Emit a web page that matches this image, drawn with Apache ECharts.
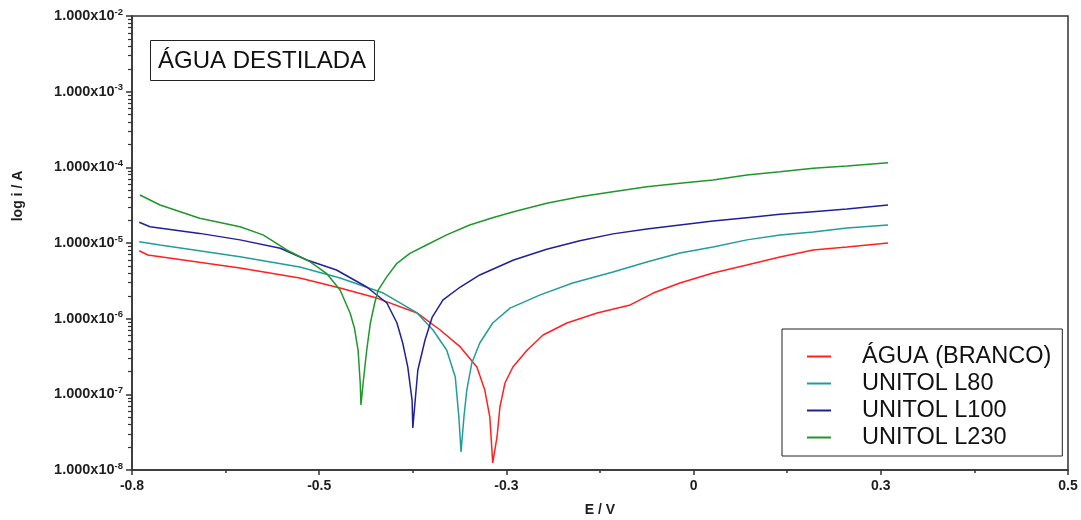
<!DOCTYPE html>
<html>
<head>
<meta charset="utf-8">
<script src="https://cdn.jsdelivr.net/npm/echarts@6/dist/echarts.min.js"></script>
<style>
  html, body { margin: 0; padding: 0; background: #fff; }
  #chart { width: 1081px; height: 520px; }
</style>
</head>
<body>
<div id="chart"></div>
<script>
// tick positions (evenly spaced) and the labels the original software printed
var xTickPos = [-0.8, -0.54, -0.28, -0.02, 0.24, 0.5];
var xTickLabels = ['-0.8', '-0.5', '-0.3', '0', '0.3', '0.5'];
var xMinorPos = [-0.67, -0.41, -0.15, 0.11, 0.37];
var yTickPos = [1e-8, 1e-7, 1e-6, 1e-5, 1e-4, 1e-3, 1e-2];

var seriesNames = ['ÁGUA (BRANCO)', 'UNITOL L80', 'UNITOL L100', 'UNITOL L230'];
var seriesColors = ['#ff2020', '#239c9c', '#20209a', '#1f982a'];

// [E / V, i / A]
var aguaPts = [
  [-0.790, 7.9e-6], [-0.778, 6.95e-6], [-0.650, 4.68e-6], [-0.567, 3.45e-6],
  [-0.511, 2.54e-6], [-0.460, 1.87e-6], [-0.404, 1.19e-6], [-0.372, 7.08e-7],
  [-0.344, 4.23e-7], [-0.321, 2.30e-7], [-0.310, 1.14e-7], [-0.303, 5.0e-8],
  [-0.299, 1.24e-8], [-0.293, 2.73e-8], [-0.289, 6.8e-8], [-0.282, 1.41e-7],
  [-0.271, 2.30e-7], [-0.251, 3.85e-7], [-0.229, 6.08e-7], [-0.196, 8.77e-7],
  [-0.154, 1.19e-6], [-0.108, 1.52e-6], [-0.076, 2.18e-6], [-0.039, 2.96e-6],
  [0.007, 4.02e-6], [0.054, 5.12e-6], [0.100, 6.53e-6], [0.146, 8.09e-6],
  [0.193, 8.86e-6], [0.250, 1.0e-5]
];
var l80Pts = [
  [-0.790, 1.04e-5], [-0.761, 9.4e-6], [-0.650, 6.59e-6], [-0.567, 4.82e-6],
  [-0.511, 3.45e-6], [-0.451, 2.18e-6], [-0.404, 1.19e-6], [-0.382, 7.08e-7],
  [-0.363, 3.85e-7], [-0.351, 1.69e-7], [-0.346, 5.0e-8], [-0.343, 1.73e-8],
  [-0.339, 5.0e-8], [-0.335, 1.14e-7], [-0.328, 2.6e-7], [-0.317, 4.77e-7],
  [-0.299, 8.77e-7], [-0.275, 1.38e-6], [-0.233, 2.06e-6], [-0.188, 2.96e-6],
  [-0.132, 4.14e-6], [-0.085, 5.61e-6], [-0.039, 7.38e-6], [0.007, 8.85e-6],
  [0.054, 1.10e-5], [0.100, 1.28e-5], [0.146, 1.40e-5], [0.193, 1.58e-5],
  [0.250, 1.73e-5]
];
var l100Pts = [
  [-0.790, 1.88e-5], [-0.775, 1.64e-5], [-0.706, 1.34e-5], [-0.650, 1.10e-5],
  [-0.594, 8.51e-6], [-0.557, 5.96e-6], [-0.516, 4.40e-6], [-0.474, 2.62e-6],
  [-0.446, 1.61e-6], [-0.432, 8.77e-7], [-0.424, 4.77e-7], [-0.417, 2.30e-7],
  [-0.411, 8.4e-8], [-0.410, 3.59e-8], [-0.407, 7.69e-8], [-0.403, 2.10e-7],
  [-0.393, 5.23e-7], [-0.383, 1.05e-6], [-0.368, 1.77e-6], [-0.344, 2.62e-6],
  [-0.317, 3.78e-6], [-0.270, 5.96e-6], [-0.224, 8.26e-6], [-0.178, 1.07e-5],
  [-0.132, 1.32e-5], [-0.085, 1.53e-5], [-0.039, 1.73e-5], [0.007, 1.95e-5],
  [0.054, 2.16e-5], [0.100, 2.39e-5], [0.146, 2.59e-5], [0.193, 2.81e-5],
  [0.250, 3.18e-5]
];
var l230Pts = [
  [-0.789, 4.31e-5], [-0.761, 3.18e-5], [-0.706, 2.12e-5], [-0.650, 1.64e-5],
  [-0.618, 1.28e-5], [-0.585, 8.09e-6], [-0.553, 5.66e-6], [-0.530, 3.98e-6],
  [-0.511, 2.39e-6], [-0.497, 1.18e-6], [-0.491, 7.46e-7], [-0.486, 3.85e-7],
  [-0.483, 1.40e-7], [-0.482, 7.23e-8], [-0.479, 1.40e-7], [-0.474, 3.85e-7],
  [-0.469, 8.69e-7], [-0.463, 1.60e-6], [-0.458, 2.39e-6], [-0.446, 3.59e-6],
  [-0.432, 5.39e-6], [-0.414, 7.31e-6], [-0.391, 9.42e-6], [-0.363, 1.28e-5],
  [-0.331, 1.73e-5], [-0.298, 2.17e-5], [-0.270, 2.59e-5], [-0.224, 3.35e-5],
  [-0.178, 4.09e-5], [-0.132, 4.77e-5], [-0.085, 5.55e-5], [-0.039, 6.15e-5],
  [0.007, 6.81e-5], [0.054, 7.92e-5], [0.100, 8.75e-5], [0.146, 9.70e-5],
  [0.193, 1.04e-4], [0.250, 1.15e-4]
];
var allPts = [aguaPts, l80Pts, l100Pts, l230Pts];

// log minor ticks 2..9 inside each decade
var yMinorPos = [];
for (var d = -8; d < -2; d++) {
  for (var k = 2; k <= 9; k++) yMinorPos.push(k * Math.pow(10, d));
}

var FONT = 'Liberation Sans, Arial, sans-serif';
var AXIS_COLOR = '#333';
var TEXT_COLOR = '#1e1e1e';

var chart = echarts.init(document.getElementById('chart'));

var option = {
  animation: false,
  backgroundColor: '#fff',
  title: {
    text: 'ÁGUA DESTILADA',
    left: 150,
    top: 40,
    padding: [8, 9, 7, 8],
    borderColor: '#222',
    borderWidth: 1,
    textStyle: { fontFamily: FONT, fontSize: 24, fontWeight: 'normal', color: '#111', lineHeight: 26 }
  },
  legend: {
    orient: 'vertical',
    left: 782,
    top: 329,
    padding: [14, 11, 5, 25],
    itemGap: 0,
    itemWidth: 24,
    itemHeight: 2,
    icon: 'rect',
    borderColor: '#222',
    borderWidth: 1,
    data: seriesNames,
    textStyle: { fontFamily: FONT, fontSize: 23.5, color: '#111', lineHeight: 27, padding: [0, 0, 0, 26] }
  },
  grid: {
    left: 132, right: 13, top: 16, bottom: 50,
    outerBoundsMode: 'none',
    show: true, borderColor: AXIS_COLOR, borderWidth: 1.5
  },
  graphic: [{
    type: 'text',
    x: 18, y: 196,
    rotation: Math.PI / 2,
    style: {
      text: 'log i / A', fontFamily: FONT, fontSize: 14, fontWeight: 'bold',
      fill: TEXT_COLOR, align: 'center', verticalAlign: 'middle'
    }
  }],
  xAxis: [{
    type: 'value',
    min: -0.8, max: 0.5,
    position: 'bottom',
    name: 'E / V',
    nameLocation: 'middle',
    nameGap: 33,
    nameTextStyle: { fontFamily: FONT, fontSize: 14, fontWeight: 'bold', color: TEXT_COLOR },
    axisLine: { onZero: false, lineStyle: { color: AXIS_COLOR, width: 1.5 } },
    axisTick: { customValues: xTickPos, length: 5, lineStyle: { color: AXIS_COLOR, width: 1.5 } },
    axisLabel: {
      customValues: xTickPos,
      margin: 9,
      fontFamily: FONT, fontSize: 14, fontWeight: 'bold', color: TEXT_COLOR,
      formatter: function (v) {
        for (var i = 0; i < xTickPos.length; i++) {
          if (Math.abs(xTickPos[i] - v) < 1e-6) return xTickLabels[i];
        }
        return '';
      }
    },
    splitLine: { show: false }
  }, {
    type: 'value',
    min: -0.8, max: 0.5,
    position: 'bottom',
    axisLine: { show: false, onZero: false },
    axisTick: { customValues: xMinorPos, length: 3, lineStyle: { color: AXIS_COLOR, width: 1.5 } },
    axisLabel: { show: false },
    splitLine: { show: false }
  }],
  yAxis: [{
    type: 'log',
    logBase: 10,
    min: 1e-8, max: 1e-2,
    position: 'left',
    axisLine: { onZero: false, lineStyle: { color: AXIS_COLOR, width: 1.5 } },
    axisTick: { customValues: yTickPos, length: 6, lineStyle: { color: AXIS_COLOR, width: 1.5 } },
    axisLabel: {
      customValues: yTickPos,
      margin: 9,
      formatter: function (v) {
        var e = Math.round(Math.log(v) / Math.LN10);
        return '{m|1.000x10}{s|' + e + '}';
      },
      rich: {
        m: { fontFamily: FONT, fontSize: 14.5, fontWeight: 'bold', color: TEXT_COLOR },
        s: { fontFamily: FONT, fontSize: 9.5, fontWeight: 'bold', color: TEXT_COLOR, padding: [0, 0, 8, 0] }
      }
    },
    splitLine: { show: false }
  }, {
    type: 'log',
    logBase: 10,
    min: 1e-8, max: 1e-2,
    position: 'left',
    axisLine: { show: false, onZero: false },
    axisTick: { customValues: yMinorPos, length: 4, lineStyle: { color: AXIS_COLOR, width: 1.2 } },
    axisLabel: { show: false },
    splitLine: { show: false }
  }],
  series: allPts.map(function (pts, i) {
    return {
      name: seriesNames[i],
      type: 'line',
      xAxisIndex: 0,
      yAxisIndex: 0,
      data: pts,
      showSymbol: false,
      color: seriesColors[i],
      lineStyle: { color: seriesColors[i], width: 1.5 }
    };
  })
};
chart.setOption(option);
</script>
</body>
</html>
